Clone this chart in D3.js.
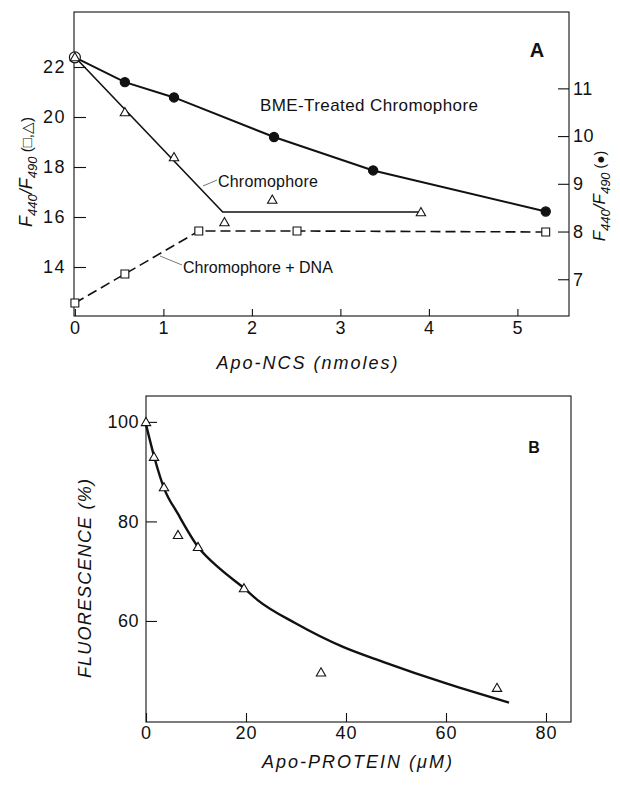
<!DOCTYPE html>
<html><head><meta charset="utf-8">
<script src="https://cdn.jsdelivr.net/npm/d3@7"></script>
<style>
body{margin:0;background:#fff;}
svg{display:block;font-family:"Liberation Sans",Arial,sans-serif;}
</style></head><body>
<svg id="c" width="620" height="786"></svg>
<script>
// ---------- Panel A data ----------
const bmeX = [0, 0.565, 1.12, 2.25, 3.37, 5.32];
const bmeY = [11.65, 11.13, 10.81, 9.98, 9.28, 8.42];          // right axis
const chromX = [0, 0.565, 1.12, 1.69, 2.23, 3.91];
const chromY = [22.4, 20.2, 18.4, 15.8, 16.7, 16.2];           // left axis
const chromFitX = [0, 1.67, 3.91];
const chromFitY = [22.4, 16.2, 16.2];
const dnaX = [0, 0.565, 1.40, 2.51, 5.32];
const dnaY = [12.56, 13.72, 15.44, 15.44, 15.4];               // left axis
const aXTicks = [0, 1, 2, 3, 4, 5];
const aLeftTicks = [14, 16, 18, 20, 22];
const aLeftLabels = ["14", "16", "18", "20", "22"];
const aRightTicks = [7, 8, 9, 10, 11];
const aRightLabels = ["7", "8", "9", "10", "11"];

// ---------- Panel B data ----------
const protX = [0, 1.6, 3.6, 6.4, 10.4, 19.6, 35, 70.2];
const protY = [100, 93.0, 86.9, 77.3, 74.9, 66.6, 49.7, 46.6];
const curveX = [0, 1.8, 3.6, 6.4, 10.4, 15, 19.6, 22.2, 30, 39.4, 47.4, 60.2, 72.6];
const curveY = [99.5, 92.4, 86.7, 81.5, 74.9, 70.3, 66.6, 64.3, 59.5, 54.8, 51.8, 47.4, 43.6];
const bXTicks = [0, 20, 40, 60, 80];
const bYTicks = [60, 80, 100];

const svg = d3.select("#c");
const ink = "#111";

// ---------- Panel A ----------
const A = {l: 74, r: 569, t: 12, b: 316};
const xA = d3.scaleLinear().domain([-0.01, 5.583]).range([A.l, A.r]);
const yAL = d3.scaleLinear().domain([12.04, 24.2]).range([A.b, A.t]);
const yAR = d3.scaleLinear().domain([6.23, 12.6]).range([A.b, A.t]);

const gA = svg.append("g");
gA.append("rect").attr("x", A.l).attr("y", A.t).attr("width", A.r - A.l).attr("height", A.b - A.t)
  .attr("fill", "none").attr("stroke", ink).attr("stroke-width", 1.1);

function styleAxis(g, fs, ls) {
  g.select(".domain").remove();
  g.selectAll(".tick line").attr("stroke", ink).attr("stroke-width", 1.1);
  g.selectAll(".tick text").attr("fill", ink).attr("font-size", fs).attr("letter-spacing", ls)
    .attr("font-family", "Liberation Sans, Arial, sans-serif");
}
gA.append("g").attr("transform", `translate(0,${A.b})`)
  .call(d3.axisBottom(xA).tickValues(aXTicks).tickSize(-7).tickPadding(5).tickFormat(d3.format("d")))
  .call(g => styleAxis(g, 18, 1));
gA.append("g").attr("transform", `translate(${A.l},0)`)
  .call(d3.axisLeft(yAL).tickValues(aLeftTicks).tickSize(-12).tickPadding(8)
    .tickFormat((d, i) => aLeftLabels[i]))
  .call(g => styleAxis(g, 18, 1.5));
gA.append("g").attr("transform", `translate(${A.r},0)`)
  .call(d3.axisRight(yAR).tickValues(aRightTicks).tickSize(-11).tickPadding(4)
    .tickFormat((d, i) => aRightLabels[i]))
  .call(g => styleAxis(g, 18, 0.5));

const lineBME = d3.line().x((d, i) => xA(bmeX[i])).y((d, i) => yAR(bmeY[i]));
gA.append("path").attr("d", lineBME(bmeX)).attr("fill", "none").attr("stroke", ink).attr("stroke-width", 2);
const lineChrom = d3.line().x((d, i) => xA(chromFitX[i])).y((d, i) => yAL(chromFitY[i]));
gA.append("path").attr("d", lineChrom(chromFitX)).attr("fill", "none").attr("stroke", ink).attr("stroke-width", 1.6);
const lineDNA = d3.line().x((d, i) => xA(dnaX[i])).y((d, i) => yAL(dnaY[i]));
gA.append("path").attr("d", lineDNA(dnaX)).attr("fill", "none").attr("stroke", ink)
  .attr("stroke-width", 1.6).attr("stroke-dasharray", "10,5");

const tri = d3.symbol().type(d3.symbolTriangle).size(38);
const sq = d3.symbol().type(d3.symbolSquare).size(62);

gA.selectAll(".sq").data(dnaX).join("path")
  .attr("transform", (d, i) => `translate(${xA(d)},${yAL(dnaY[i])})`)
  .attr("d", sq()).attr("fill", "#fff").attr("stroke", ink).attr("stroke-width", 1.1);
gA.selectAll(".ci").data(bmeX).join("circle")
  .attr("cx", d => xA(d)).attr("cy", (d, i) => yAR(bmeY[i]))
  .attr("r", (d, i) => i === 0 ? 5.5 : 4.6)
  .attr("fill", (d, i) => i === 0 ? "#fff" : ink).attr("stroke", ink).attr("stroke-width", 1.2);
gA.selectAll(".tr").data(chromX).join("path")
  .attr("transform", (d, i) => `translate(${xA(d)},${yAL(chromY[i]) + 1})`)
  .attr("d", tri()).attr("fill", "#fff").attr("stroke", ink).attr("stroke-width", 1.1);

// annotations
gA.append("text").attr("x", 260).attr("y", 111).attr("font-size", 17).attr("letter-spacing", 0.4)
  .attr("fill", ink).text("BME-Treated  Chromophore");
gA.append("text").attr("x", 218).attr("y", 187).attr("font-size", 16).attr("letter-spacing", 0.2)
  .attr("fill", ink).text("Chromophore");
gA.append("line").attr("x1", 203).attr("y1", 186).attr("x2", 217).attr("y2", 180)
  .attr("stroke", "#555").attr("stroke-width", 0.8);
gA.append("text").attr("x", 183).attr("y", 273).attr("font-size", 16)
  .attr("fill", ink).text("Chromophore + DNA");
gA.append("line").attr("x1", 160).attr("y1", 256).attr("x2", 182).attr("y2", 265)
  .attr("stroke", "#555").attr("stroke-width", 0.8);
gA.append("text").attr("x", 537).attr("y", 57).attr("font-size", 20).attr("font-weight", "bold")
  .attr("text-anchor", "middle").attr("fill", ink).text("A");

gA.append("text").attr("x", 308).attr("y", 369).attr("font-size", 18).attr("font-style", "italic")
  .attr("letter-spacing", 2).attr("text-anchor", "middle").attr("fill", ink).text("Apo-NCS (nmoles)");

function ratioLabel(x, y, tail, fs, ss) {
  const t = svg.append("text").attr("transform", `translate(${x},${y}) rotate(-90)`)
    .attr("text-anchor", "middle").attr("font-style", "italic").attr("fill", ink).attr("font-size", fs);
  t.append("tspan").text("F");
  t.append("tspan").attr("font-size", ss).attr("dy", 5).text("440");
  t.append("tspan").attr("dy", -5).text("/F");
  t.append("tspan").attr("font-size", ss).attr("dy", 5).text("490");
  t.append("tspan").attr("dy", -5).attr("font-style", "normal").attr("font-size", fs - 3).text(tail);
}
ratioLabel(32, 172, " (\u25A1,\u25B3)", 18, 13);
ratioLabel(605, 196, " (\u25CF)", 17, 13);

// ---------- Panel B ----------
const B = {l: 146, r: 571, t: 396, b: 722};
const xB = d3.scaleLinear().domain([0, 85]).range([B.l, B.r]);
const yB = d3.scaleLinear().domain([39.7, 105.2]).range([B.b, B.t]);
const gB = svg.append("g");
gB.append("rect").attr("x", B.l).attr("y", B.t).attr("width", B.r - B.l).attr("height", B.b - B.t)
  .attr("fill", "none").attr("stroke", ink).attr("stroke-width", 1.1);
gB.append("g").attr("transform", `translate(0,${B.b})`)
  .call(d3.axisBottom(xB).tickValues(bXTicks).tickSize(-9).tickPadding(4).tickFormat(d3.format("d")))
  .call(g => styleAxis(g, 18, 1));
gB.append("g").attr("transform", `translate(${B.l},0)`)
  .call(d3.axisLeft(yB).tickValues(bYTicks).tickSize(-11).tickPadding(7).tickFormat(d3.format("d")))
  .call(g => styleAxis(g, 18, 0.5));

const lineB = d3.line().x((d, i) => xB(curveX[i])).y((d, i) => yB(curveY[i])).curve(d3.curveMonotoneX);
gB.append("path").attr("d", lineB(curveX)).attr("fill", "none").attr("stroke", ink).attr("stroke-width", 2.4);
gB.selectAll(".tr").data(protX).join("path")
  .attr("transform", (d, i) => `translate(${xB(d)},${yB(protY[i]) + 1})`)
  .attr("d", tri()).attr("fill", "#fff").attr("stroke", ink).attr("stroke-width", 1.1);

gB.append("text").attr("x", 534).attr("y", 453).attr("font-size", 16).attr("font-weight", "bold")
  .attr("text-anchor", "middle").attr("fill", ink).text("B");
gB.append("text").attr("x", 358).attr("y", 768).attr("font-size", 18).attr("font-style", "italic")
  .attr("letter-spacing", 2).attr("text-anchor", "middle").attr("fill", ink).text("Apo-PROTEIN (\u03BCM)");
gB.append("text").attr("transform", "translate(91,578) rotate(-90)").attr("font-size", 18)
  .attr("font-style", "italic").attr("letter-spacing", 1.2).attr("text-anchor", "middle")
  .attr("fill", ink).text("FLUORESCENCE (%)");
</script></body></html>
